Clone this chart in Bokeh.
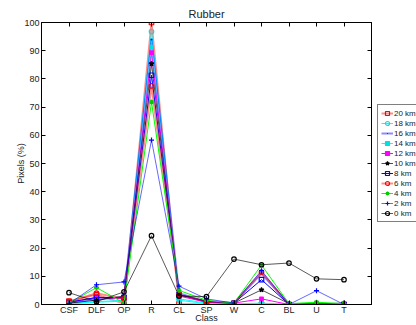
from bokeh.plotting import figure
from bokeh.models import Range1d, FixedTicker, LinearAxis, Legend, LegendItem
from bokeh.layouts import row
from bokeh.embed import file_html
from bokeh.resources import INLINE

categories = ["CSF", "DLF", "OP", "R", "CL", "SP", "W", "C", "BL", "U", "T"]
y_ticks = [0, 10, 20, 30, 40, 50, 60, 70, 80, 90, 100]

km20 = [1.2, 3.5, 0.3, 100.0, 0.2, 0.0, 0.0, 0.0, 0.0, 0.0, 0.0]
km18 = [0.3, 1.0, 1.5, 96.8, 2.0, 0.5, 0.2, 0.5, 0.0, 0.0, 0.0]
km16 = [0.5, 2.0, 2.5, 94.0, 4.0, 1.0, 0.5, 11.0, 0.0, 0.0, 0.0]
km14 = [0.2, 0.8, 1.2, 91.3, 1.5, 0.3, 0.1, 0.3, 0.0, 0.0, 0.0]
km12 = [0.8, 2.5, 2.0, 89.3, 3.0, 0.8, 0.5, 2.0, 0.0, 0.0, 0.0]
km10 = [0.5, 1.5, 3.0, 85.4, 3.5, 1.2, 0.5, 5.2, 0.3, 0.2, 0.5]
km8 = [0.8, 2.5, 2.5, 81.3, 3.5, 1.0, 0.5, 8.8, 0.0, 0.0, 0.0]
km6 = [1.0, 4.0, 2.0, 77.5, 3.5, 1.0, 0.5, 11.5, 0.0, 0.2, 0.0]
km4 = [0.5, 6.0, 0.5, 71.8, 5.0, 1.5, 0.5, 14.0, 0.3, 0.8, 0.3]
km2 = [0.3, 7.0, 8.0, 58.3, 6.5, 2.0, 0.5, 12.0, 0.0, 4.9, 0.0]
km0 = [4.2, 1.0, 4.5, 24.4, 3.0, 2.8, 16.1, 14.1, 14.7, 9.1, 8.8]

series_labels = ["20 km", "18 km", "16 km", "14 km", "12 km", "10 km",
                 "8 km", "6 km", "4 km", "2 km", "0 km"]
series_values = [km20, km18, km16, km14, km12, km10, km8, km6, km4, km2, km0]

styles = [
    ("#ff0000", 0.45, 2.0, "square", "#ff0000", 4.5, False),
    ("#00ffff", 1.0, 1.0, "circle", "#00e0e0", 4.5, False),
    ("#0000ff", 0.45, 2.0, "dot", "#0000ff", 8, True),
    ("#00ffff", 1.0, 1.0, "square", "#00e0e0", 3.5, True),
    ("#ff00ff", 1.0, 1.0, "square", "#ff00ff", 3.5, True),
    ("#000000", 0.7, 1.0, "star", "#000000", 5, True),
    ("#0000ff", 1.0, 1.0, "square", "#0000ff", 4.5, False),
    ("#ff0000", 0.45, 2.0, "circle", "#ff0000", 4.5, False),
    ("#00ff00", 1.0, 1.0, "asterisk", "#00cc00", 5, False),
    ("#0000ff", 0.6, 1.0, "cross", "#0000ff", 5, False),
    ("#000000", 0.65, 1.0, "circle", "#000000", 4.5, False),
]

xs = list(range(1, len(categories) + 1))
FONT = "Liberation Sans"

p = figure(width=377, height=325, x_range=Range1d(0, 12), y_range=Range1d(0, 100),
           output_backend="svg", toolbar_location=None, title="Rubber",
           min_border_left=41, min_border_right=6, min_border_top=22, min_border_bottom=20)
p.title.align = "center"
p.title.text_font = FONT
p.title.text_font_size = "11px"
p.title.text_font_style = "normal"
p.title.text_color = "#222222"
p.title.standoff = 5
p.grid.visible = False
p.outline_line_color = "black"
p.outline_line_width = 1

# legend in its own small figure to the right; its copies of the series lie outside its ranges
lg = figure(width=39, height=325, x_range=Range1d(-20, -19), y_range=Range1d(-20, -19),
            output_backend="svg", toolbar_location=None,
            min_border_left=0, min_border_right=0, min_border_top=0, min_border_bottom=0)
lg.axis.visible = False
lg.grid.visible = False
lg.outline_line_color = None

items = []
for lab, vals, st in zip(series_labels, series_values, styles):
    lc, la, lw, mk, mc, ms, filled = st
    kw_line = dict(line_color=lc, line_alpha=la, line_width=lw)
    kw_mark = dict(marker=mk, size=ms, line_color=mc, line_width=1.2,
                   fill_color=mc if filled else "white", fill_alpha=1.0 if filled else 0.0)
    p.line(xs, vals, **kw_line)
    p.scatter(xs, vals, **kw_mark)
    d1 = lg.line(xs, vals, **kw_line)
    d2 = lg.scatter(xs, vals, **kw_mark)
    items.append(LegendItem(label=lab, renderers=[d1, d2]))

def style_axis(ax, show_labels=True):
    ax.axis_line_color = "black"
    ax.major_tick_line_color = "black"
    ax.major_tick_in = 4
    ax.major_tick_out = 0
    ax.minor_tick_line_color = None
    ax.major_label_text_font = FONT
    ax.major_label_text_font_size = "9px" if show_labels else "1px"
    ax.major_label_text_color = "#222222" if show_labels else None
    ax.axis_label_text_font = FONT
    ax.axis_label_text_font_size = "9px"
    ax.axis_label_text_font_style = "normal"
    ax.axis_label_text_color = "#222222"

xax = p.xaxis[0]
xax.ticker = FixedTicker(ticks=xs)
xax.major_label_overrides = {x: c for x, c in zip(xs, categories)}
xax.axis_label = "Class"
style_axis(xax)
xax.major_label_standoff = 0
xax.axis_label_standoff = -5

yax = p.yaxis[0]
yax.ticker = FixedTicker(ticks=y_ticks)
yax.axis_label = "Pixels (%)"
style_axis(yax)
yax.major_label_standoff = 2
yax.axis_label_standoff = -5

rax = LinearAxis(ticker=FixedTicker(ticks=y_ticks))
style_axis(rax, show_labels=False)
rax.major_label_standoff = 0
p.add_layout(rax, "right")

tax = LinearAxis(ticker=FixedTicker(ticks=xs))
style_axis(tax, show_labels=False)
tax.major_label_standoff = 0
p.add_layout(tax, "above")

legend = Legend(items=items, location="left")
legend.label_text_font = FONT
legend.label_text_font_size = "8px"
legend.label_text_color = "#222222"
legend.glyph_width = 12
legend.glyph_height = 10
legend.label_height = 10
legend.spacing = 0
legend.padding = 3
legend.margin = 0
legend.label_standoff = 1
legend.border_line_color = "black"
legend.border_line_width = 1
legend.background_fill_alpha = 1.0
lg.add_layout(legend, "center")

open("out.html", "w").write(file_html(row(p, lg), INLINE))
